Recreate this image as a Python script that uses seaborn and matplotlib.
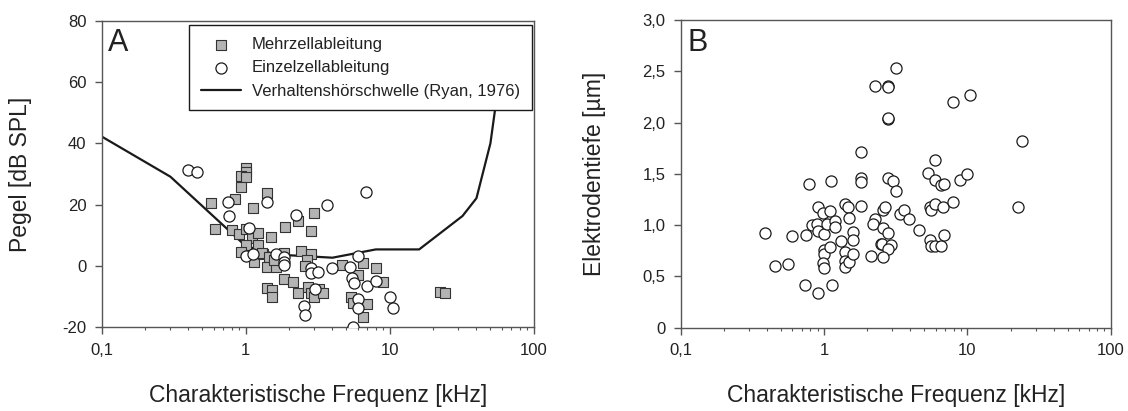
import matplotlib
matplotlib.use("Agg")
import matplotlib.pyplot as plt
import matplotlib.ticker as mticker
import seaborn as sns
import pandas as pd

# Panel A: Mehrzellableitung (squares)
multi_freq = [1.0, 1.0, 0.92, 1.0, 0.92, 0.84, 0.574, 1.12, 0.61, 0.80, 0.90, 1.0, 1.10, 1.21,
              1.01, 1.21, 0.92, 1.15, 1.32, 1.40, 2.30, 2.99, 1.87, 2.82, 1.49, 1.30, 1.44, 1.40,
              1.62, 1.85, 1.56, 2.42, 2.84, 2.65, 2.58, 1.85, 2.14, 1.40, 1.52, 1.52, 2.30, 2.70,
              2.84, 2.99, 3.23, 3.46, 4.64, 6.56, 6.0, 8.0, 9.04, 5.36, 5.59, 6.92, 6.56, 22.3, 24.2]
multi_level = [31.8, 30.7, 29.3, 29.1, 25.7, 21.8, 20.4, 18.8, 12.0, 11.7, 10.3, 12.0, 9.0, 10.6,
               6.8, 6.8, 4.7, 1.4, 3.9, 23.9, 14.8, 17.4, 12.6, 11.5, 9.4, 4.3, 2.8, -0.4,
               -0.4, 4.3, 2.0, 4.9, 3.9, 2.0, 0.0, -4.2, -5.1, -7.3, -7.8, -10.0, -8.9, -6.7,
               -8.9, -10.2, -7.6, -8.7, 0.3, 0.9, -2.9, -0.8, -5.1, -10.0, -12.2, -12.4, -16.5, -8.5, -8.7]

# Panel A: Einzelzellableitung (circles)
single_freq = [0.40, 0.46, 0.75, 0.76, 1.05, 1.0, 1.12, 1.40, 6.84, 3.65, 2.23, 1.62, 1.85, 1.85,
               1.85, 2.84, 2.84, 3.19, 3.95, 3.03, 2.54, 2.58, 5.30, 6.0, 5.50, 5.65, 6.96, 8.0,
               6.0, 6.0, 10.0, 10.5, 5.54]
single_level = [31.3, 30.6, 20.8, 16.4, 12.5, 3.3, 3.8, 21.0, 24.2, 19.9, 16.6, 3.9, 3.0, 1.2,
                0.2, -0.8, -2.4, -1.8, -0.5, -7.6, -13.0, -16.0, -0.4, 3.3, -3.8, -5.7, -6.5, -4.8,
                -10.9, -13.8, -10.0, -13.8, -20.0]

# Verhaltenshoerschwelle (Ryan, 1976)
ryan_freq = [0.1, 0.3, 1.0, 1.5, 2.0, 4.0, 8.0, 16.0, 32.0, 40.0, 50.0, 54.0, 58.0]
ryan_level = [42.2, 29.1, 6.5, 4.2, 3.5, 2.7, 5.4, 5.4, 16.3, 22.1, 40.0, 51.4, 70.0]

# Panel B: Elektrodentiefe
depth_freq = [0.39, 0.455, 0.558, 0.60, 0.745, 0.737, 0.785, 0.90, 0.90, 0.82, 0.89, 0.90, 0.98,
              0.995, 1.04, 0.995, 1.0, 0.98, 0.995, 1.12, 1.10, 1.13, 1.10, 1.19, 1.19, 1.39,
              1.48, 1.50, 1.31, 1.39, 1.39, 1.39, 1.50, 1.58, 1.58, 1.60, 1.80, 1.80, 1.80, 1.80,
              2.12, 2.27, 2.81, 2.79, 2.79, 2.80, 3.18, 2.81, 3.01, 3.18, 2.27, 2.21, 2.56, 2.81,
              2.59, 2.68, 2.49, 2.55, 2.94, 2.81, 2.59, 3.39, 3.63, 3.92, 4.60, 5.35, 5.96, 5.96,
              6.52, 6.90, 5.50, 5.6, 5.96, 6.76, 7.91, 5.50, 5.57, 5.96, 6.56, 6.90, 7.91, 8.89,
              9.91, 10.4, 24.1, 22.6]
depth_value = [0.92, 0.60, 0.62, 0.89, 0.90, 0.42, 1.40, 0.335, 1.18, 1.00, 1.01, 0.94, 1.12,
               0.91, 1.01, 0.76, 0.72, 0.63, 0.58, 1.43, 1.14, 0.42, 0.79, 1.04, 0.98, 1.21,
               1.18, 1.07, 0.845, 0.74, 0.65, 0.595, 0.645, 0.715, 0.93, 0.855, 1.71, 1.46, 1.42, 1.19,
               0.70, 2.36, 2.36, 2.35, 2.03, 2.04, 2.53, 1.46, 1.43, 1.33, 1.06, 1.01, 0.975, 0.92,
               1.15, 1.18, 0.82, 0.82, 0.81, 0.765, 0.69, 1.11, 1.15, 1.06, 0.95, 1.51, 1.63, 1.44,
               1.39, 1.40, 1.18, 1.15, 1.21, 1.18, 1.23, 0.855, 0.80, 0.80, 0.80, 0.90, 2.20, 1.44,
               1.50, 2.27, 1.82, 1.18]

x_ticks = [0.1, 1, 10, 100]
x_ticklabels = ["0,1", "1", "10", "100"]
yA_ticks = [-20, 0, 20, 40, 60, 80]
yB_ticks = [0, 0.5, 1.0, 1.5, 2.0, 2.5, 3.0]
yB_ticklabels = ["0", "0,5", "1,0", "1,5", "2,0", "2,5", "3,0"]

sns.set_style("ticks")
plt.rcParams["font.family"] = ["Liberation Sans", "DejaVu Sans"]
plt.rcParams["axes.unicode_minus"] = False

df_multi = pd.DataFrame({"freq": multi_freq, "level": multi_level})
df_single = pd.DataFrame({"freq": single_freq, "level": single_level})
df_ryan = pd.DataFrame({"freq": ryan_freq, "level": ryan_level})
df_depth = pd.DataFrame({"freq": depth_freq, "depth": depth_value})

fig = plt.figure(figsize=(11.28, 4.11), dpi=100)
axA = fig.add_axes([0.0902, 0.2036, 0.3830, 0.7462])
axB = fig.add_axes([0.6035, 0.2027, 0.3812, 0.7487])

spine_col = "#555555"
text_col = "#222222"

def style_axis(ax):
    ax.set_xscale("log")
    ax.set_xlim(0.1, 100)
    ax.xaxis.set_major_locator(mticker.FixedLocator(x_ticks))
    ax.xaxis.set_major_formatter(mticker.FixedFormatter(x_ticklabels))
    ax.xaxis.set_minor_locator(mticker.LogLocator(base=10, subs=range(2, 10), numticks=20))
    ax.xaxis.set_minor_formatter(mticker.NullFormatter())
    for s in ax.spines.values():
        s.set_color(spine_col)
        s.set_linewidth(1.0)
    ax.tick_params(which="major", direction="out", length=5, width=1, color=spine_col,
                   labelsize=12, labelcolor=text_col, pad=6)
    ax.tick_params(which="minor", direction="out", length=2.5, width=0.8, color=spine_col)
    ax.tick_params(axis="y", which="minor", left=False)
    ax.set_xlabel("Charakteristische Frequenz [kHz]", fontsize=16.5, color=text_col, labelpad=19)

# Panel A
sns.lineplot(data=df_ryan, x="freq", y="level", ax=axA, color="#1a1a1a",
             linewidth=1.6, sort=False, label="Verhaltenshörschwelle (Ryan, 1976)")
sns.scatterplot(data=df_multi, x="freq", y="level", ax=axA, marker="s", s=46,
                color="#b4b4b4", edgecolor="#333333", linewidth=0.8, zorder=3,
                label="Mehrzellableitung")
sns.scatterplot(data=df_single, x="freq", y="level", ax=axA, marker="o", s=64,
                color="white", edgecolor="#1a1a1a", linewidth=0.9, zorder=4,
                label="Einzelzellableitung")
style_axis(axA)
axA.set_ylim(-20, 80)
axA.set_yticks(yA_ticks)
axA.set_ylabel("Pegel [dB SPL]", fontsize=16.5, color=text_col, labelpad=22)
handles, labels = axA.get_legend_handles_labels()
order = [labels.index("Mehrzellableitung"), labels.index("Einzelzellableitung"),
         labels.index("Verhaltenshörschwelle (Ryan, 1976)")]
leg = axA.legend([handles[i] for i in order], [labels[i] for i in order],
                 loc="upper right", bbox_to_anchor=(0.995, 0.985), frameon=True, fancybox=False,
                 framealpha=1, edgecolor="#1a1a1a", fontsize=12, handlelength=2.4,
                 handletextpad=0.65, labelspacing=0.5, borderpad=0.7, borderaxespad=0)
leg.get_frame().set_linewidth(1.0)
for t in leg.get_texts():
    t.set_color(text_col)
axA.text(0.015, 0.975, "A", transform=axA.transAxes, fontsize=22, va="top", ha="left",
         color=text_col)

# Panel B
sns.scatterplot(data=df_depth, x="freq", y="depth", ax=axB, marker="o", s=64,
                color="white", edgecolor="#1a1a1a", linewidth=0.9, zorder=3, legend=False)
style_axis(axB)
axB.set_ylim(0, 3.0)
axB.set_yticks(yB_ticks)
axB.set_yticklabels(yB_ticklabels)
axB.set_ylabel("Elektrodentiefe [µm]", fontsize=16.5, color=text_col, labelpad=26)
axB.text(0.015, 0.975, "B", transform=axB.transAxes, fontsize=22, va="top", ha="left",
         color=text_col)

fig.savefig("out.png", dpi=100)
